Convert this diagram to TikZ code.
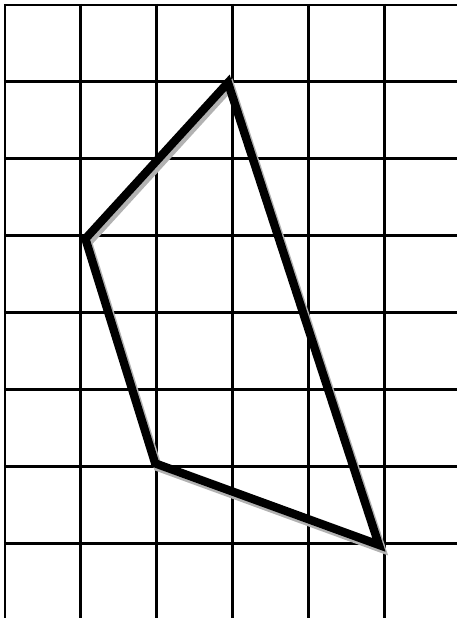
\documentclass[tikz,border=0pt]{standalone}
\usepackage{tikz}

\begin{document}
\begin{tikzpicture}
	[x=0.991cm,y=1.005cm,
	 gridline/.style={line width=1.1pt},
	 edge/.style={line width=3.1pt,line join=miter},
	 shade/.style={line width=3.1pt,gray!60,line join=miter}]
\useasboundingbox (-0.066,0.065) rectangle (5.963,-7.971);
% grid
\foreach \x in {0,...,5}
\draw[gridline] (\x,0.014) -- (\x,-7.971);
\foreach \y in {0,...,7}
\draw[gridline] (-0.014,-\y) -- (5.963,-\y);
% corners of the quadrilateral
\coordinate (top) at (2.94,-1.01);
\coordinate (left) at (1.06,-3.04);
\coordinate (low) at (1.98,-5.96);
\coordinate (right) at (4.93,-7.02);
\draw[shade] ([shift={(1pt,-1.4pt)}]top) -- ([shift={(1pt,-1.4pt)}]left)
 -- ([shift={(1pt,-1.4pt)}]low) -- ([shift={(1pt,-1.4pt)}]right) -- cycle;
\draw[edge] (top) -- (left) -- (low) -- (right) -- cycle;
\end{tikzpicture}
\end{document}
